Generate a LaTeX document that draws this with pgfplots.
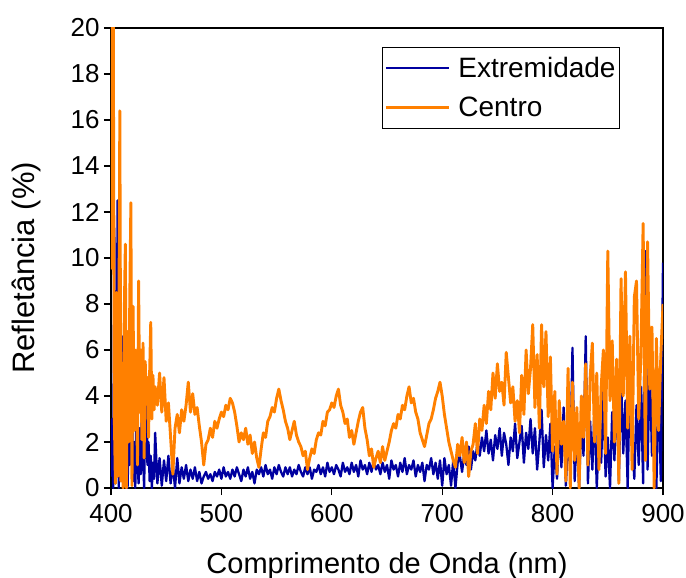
\documentclass[border=0pt]{standalone}
\usepackage{fontspec}
\setmainfont{Liberation Sans}
\usepackage{pgfplots}
\usepackage{pgfplotstable}
\pgfplotsset{compat=1.18}

\definecolor{extblue}{RGB}{0,0,160}
\definecolor{centorange}{RGB}{255,128,0}

% Extremidade
\pgfplotstableread{
x y
400 0.5
401 3.0
402 0.0
403 11.3
404 0.2
405 3.4
406 12.5
407 0.0
408 2.8
409 0.3
410 4.0
411 6.6
412 0.4
413 3.2
414 4.6
415 0.0
416 2.2
417 1.0
418 3.5
419 4.2
420 0.3
421 2.0
422 0.0
423 3.4
424 1.2
425 0.2
426 2.6
427 0.6
428 4.0
429 1.5
430 0.0
431 2.9
432 4.7
433 1.0
434 2.0
435 0.3
436 1.4
437 0.0
438 1.1
439 0.4
440 2.4
442 0.2
444 1.3
446 0.1
448 1.2
450 0.3
452 1.4
454 0.2
456 1.0
458 0.0
460 1.3
462 0.2
464 0.9
466 0.4
468 1.0
470 0.3
472 0.8
474 0.4
476 0.9
478 0.3
480 0.7
482 0.2
484 0.5
486 0.7
488 0.4
490 0.6
492 0.3
494 0.7
496 0.5
498 0.8
500 0.4
502 0.9
504 0.5
506 0.7
508 0.4
510 0.8
512 0.5
514 0.9
516 0.6
518 0.3
520 0.8
522 0.5
524 0.9
526 0.4
528 0.7
530 0.2
532 0.8
534 0.6
536 0.9
538 0.5
540 1.0
542 0.6
544 0.8
546 0.4
548 0.9
550 0.6
552 1.0
554 0.7
556 0.5
558 0.9
560 0.6
562 0.9
564 0.5
566 0.8
568 0.6
570 1.0
572 0.7
574 0.5
576 0.9
578 0.6
580 0.9
582 0.4
584 0.8
586 0.7
588 1.0
590 0.6
592 0.9
594 0.5
596 1.1
598 0.7
600 0.9
602 0.6
604 1.0
606 0.8
608 0.5
610 1.1
612 0.7
614 0.9
616 0.6
618 1.1
620 0.7
622 1.0
624 0.5
626 1.2
628 0.8
630 1.0
632 0.6
634 1.1
636 0.7
638 1.2
640 0.8
642 1.0
644 0.6
646 1.1
648 0.7
650 1.0
652 0.4
654 1.2
656 0.8
658 1.0
660 0.5
662 1.1
664 0.7
666 1.3
668 0.6
670 1.0
672 0.8
674 1.2
676 0.5
678 1.0
680 0.7
682 1.1
684 0.3
686 1.0
688 0.8
690 1.3
692 0.6
694 1.1
696 0.4
698 1.2
700 0.1
702 1.3
704 0.6
706 1.0
708 0.1
710 1.2
712 0.0
714 1.1
716 1.4
718 0.7
720 1.5
722 1.0
724 1.8
726 0.8
728 1.6
730 1.2
732 2.0
734 1.4
736 2.2
738 1.6
740 2.5
742 1.5
744 2.1
746 1.2
748 2.3
750 1.7
752 2.6
754 1.4
756 2.4
758 1.9
760 1.0
762 2.2
764 1.6
766 2.8
768 1.3
770 2.0
772 2.7
774 1.1
776 2.4
778 1.7
780 3.0
782 1.5
784 2.6
786 0.8
788 2.0
790 3.4
792 0.9
794 2.3
796 1.2
798 2.8
800 0.0
802 1.8
804 0.4
806 2.6
808 0.9
810 3.5
812 0.1
814 2.0
816 1.0
818 6.1
820 0.3
822 2.5
824 0.0
826 3.0
828 1.4
830 6.6
832 0.2
834 2.9
836 0.8
838 3.6
840 0.0
842 2.4
844 1.1
846 4.2
848 0.5
850 2.2
852 0.0
854 3.3
856 1.2
858 4.5
860 0.3
862 4.9
864 1.5
866 3.8
868 0.0
870 5.2
872 2.1
874 0.4
876 3.6
878 1.0
880 4.4
882 0.2
884 10.3
886 0.8
888 5.5
890 1.4
892 3.9
894 0.0
896 4.6
898 0.3
900 9.8
}\extdata

% Centro
\pgfplotstableread{
x y
400 9.5
401 25
402 22
403 3.1
404 0.2
405 8.5
406 0.5
407 5.2
408 16.4
409 0.3
410 4.0
411 0.0
412 7.5
413 10.6
414 0.0
415 6.8
416 2.0
417 8.2
418 12.4
419 0.1
420 7.9
421 2.5
422 6.0
423 4.2
424 1.0
425 9.0
426 3.3
427 6.0
428 2.1
429 6.3
430 1.3
431 5.5
432 3.8
433 4.8
434 2.2
435 5.0
436 7.2
437 3.0
438 4.9
439 3.4
440 4.4
442 3.6
444 5.0
446 3.3
448 4.8
450 2.9
452 3.7
454 2.2
456 0.6
458 2.6
460 3.2
462 2.4
464 3.4
466 2.9
468 3.6
470 4.6
472 3.3
474 4.1
476 3.2
478 3.5
480 2.7
482 2.0
484 1.0
486 1.9
488 2.1
490 2.6
492 2.2
494 2.9
496 2.6
498 3.0
500 3.3
502 3.1
504 3.6
506 3.4
508 3.9
510 3.7
512 3.3
514 2.7
516 2.0
518 2.4
520 2.1
522 2.6
524 1.9
526 2.3
528 1.5
530 2.0
532 1.3
534 0.9
536 1.7
538 2.4
540 2.2
542 2.9
544 3.1
546 3.5
548 3.3
550 3.9
552 4.3
554 3.8
556 3.4
558 2.9
560 2.6
562 2.1
564 2.5
566 2.9
568 2.3
570 2.0
572 1.8
574 1.4
576 1.6
578 0.8
580 1.3
582 1.7
584 1.5
586 2.1
588 2.4
590 2.3
592 2.9
594 2.7
596 3.3
598 3.4
600 3.7
602 3.5
604 4.0
606 4.3
608 3.6
610 3.3
612 2.8
614 3.0
616 2.2
618 2.5
620 1.9
622 2.4
624 2.9
626 3.3
628 3.5
630 2.6
632 2.1
634 1.4
636 1.7
638 0.9
640 1.3
642 1.6
644 1.1
646 1.8
648 1.2
650 1.6
652 2.0
654 2.5
656 2.8
658 2.6
660 3.2
662 3.0
664 3.6
666 3.4
668 4.0
670 4.4
672 3.7
674 3.9
676 3.3
678 3.0
680 2.4
682 2.1
684 1.8
686 2.3
688 2.8
690 3.0
692 3.4
694 3.9
696 4.2
698 4.6
700 4.0
702 3.2
704 2.6
706 2.0
708 1.6
710 1.2
712 0.9
714 1.9
716 1.4
718 2.2
720 1.1
722 2.0
724 0.5
726 1.6
728 1.9
730 2.8
732 1.5
734 3.0
736 2.5
738 3.6
740 2.8
742 4.2
744 3.4
746 5.0
748 3.9
750 5.4
752 4.2
754 4.6
756 3.6
758 5.9
760 4.8
762 3.7
764 4.4
766 2.9
768 3.8
770 2.4
772 4.9
774 3.2
776 6.0
778 4.1
780 5.2
782 7.1
784 3.5
786 5.8
788 2.6
790 7.1
792 4.4
794 6.8
796 3.1
798 5.7
800 1.6
802 4.2
804 0.6
806 3.8
808 1.9
810 2.9
812 0.3
814 5.2
816 0.0
818 4.6
820 1.2
822 3.5
824 0.0
826 4.0
828 2.2
830 5.4
832 1.0
834 4.8
836 6.3
838 2.0
840 5.0
842 0.8
844 4.4
846 6.0
848 1.5
850 10.3
852 3.8
854 6.4
856 2.0
858 5.6
860 0.2
862 9.1
864 4.0
866 9.4
868 2.6
870 6.6
872 0.8
874 8.3
876 9.0
878 3.0
880 5.8
882 11.5
884 1.2
886 10.7
888 4.3
890 7.0
892 0.0
894 6.5
896 2.5
898 5.7
900 8.0
}\centrodata

\begin{document}
\begin{tikzpicture}
\useasboundingbox (-111bp,-90bp) rectangle (575bp,488bp);
\begin{axis}[
  scale only axis,
  width=552bp, height=460bp,
  xmin=400, xmax=900,
  ymin=0, ymax=20,
  xtick={400,500,...,900},
  ytick={0,2,...,20},
  tick pos=left,
  tick align=outside,
  major tick length=7bp,
  axis line style={line width=1.3bp},
  every tick/.style={black, line width=1.3bp},
  /pgf/number format/assume math mode=true,
  ticklabel style={font=\fontsize{26bp}{30bp}\selectfont},
  xticklabel style={yshift=-6bp},
  yticklabel style={xshift=-1bp},
  xlabel={Comprimento de Onda (nm)},
  ylabel={Refletância (\%)},
  xlabel style={font=\fontsize{29bp}{34bp}\selectfont, at={(axis description cs:0.5,0)}, anchor=base, yshift=-85bp, inner sep=0pt},
  ylabel style={font=\fontsize{31bp}{36bp}\selectfont, at={(axis description cs:0,0.5)}, anchor=base, yshift=76bp, xshift=-10bp, inner sep=0pt},
  legend style={at={(0.922,0.959)}, anchor=north east, draw=black, line width=0.8bp,
    font=\fontsize{28bp}{32bp}\selectfont, inner xsep=2bp, inner ysep=8bp, row sep=14bp},
  legend cell align=left,
  legend image code/.code={\draw[#1] (-6bp,0bp) -- (57bp,0bp); \path (63bp,0bp);},
]
\addplot[extblue, line width=2.3bp, line join=round] table {\extdata};
\addlegendentry{Extremidade}
\addplot[centorange, line width=2.9bp, line join=round] table {\centrodata};
\addlegendentry{Centro}
\end{axis}
\end{tikzpicture}
\end{document}
